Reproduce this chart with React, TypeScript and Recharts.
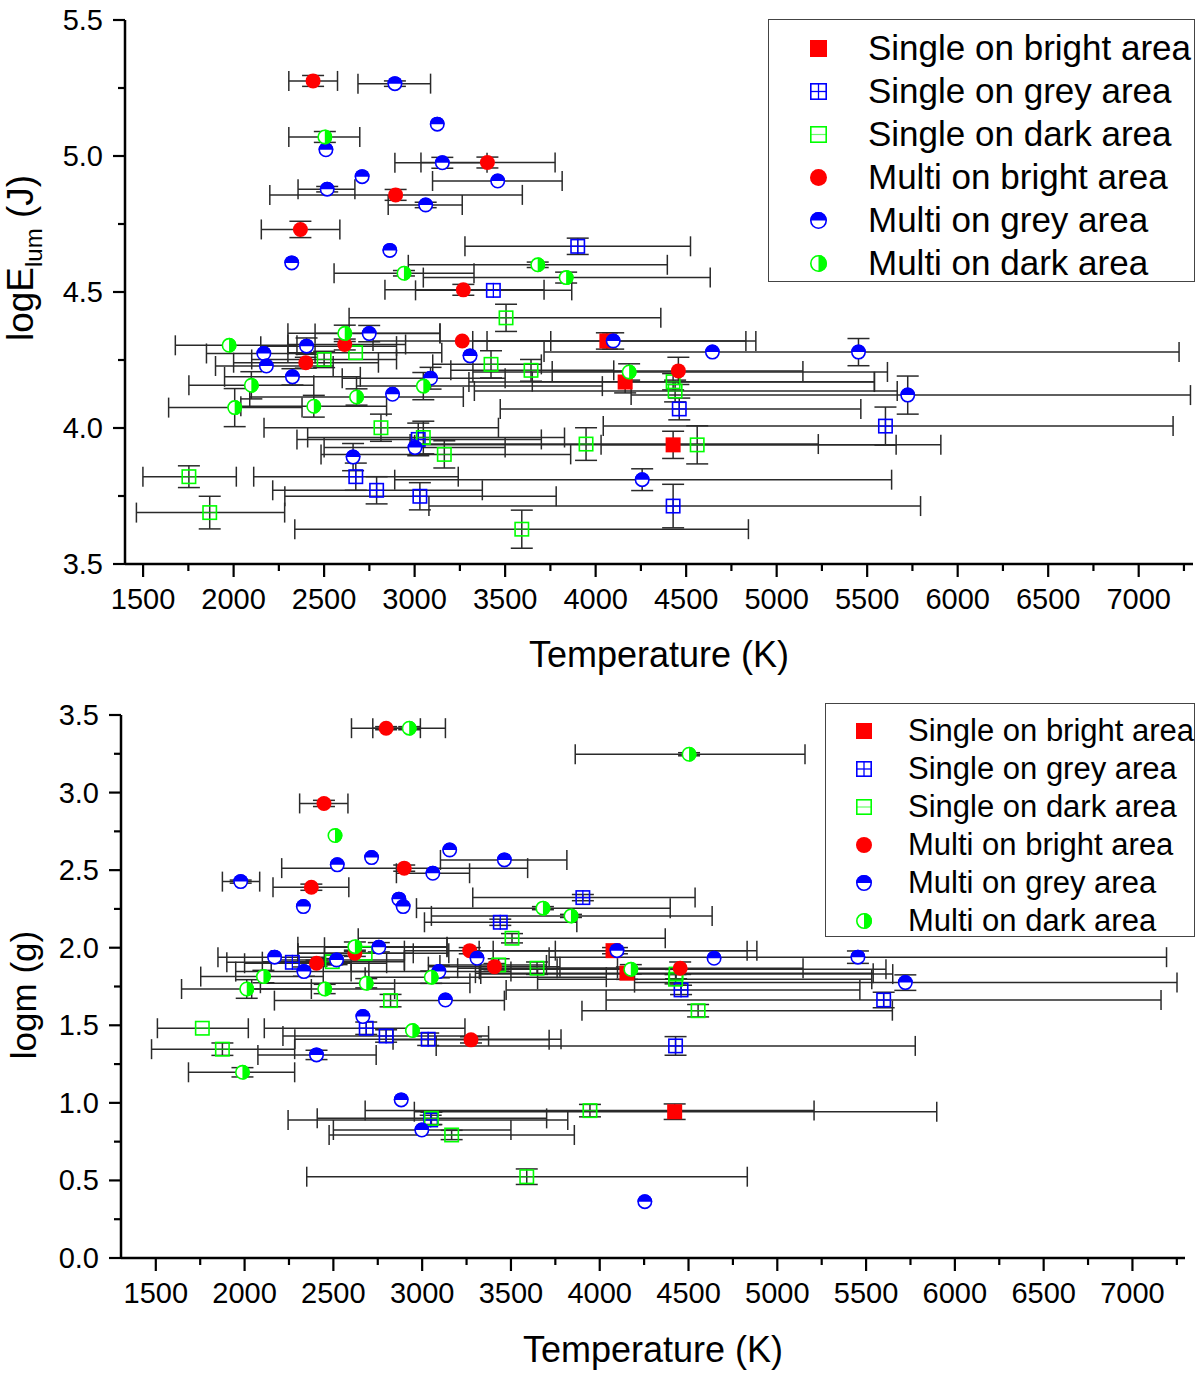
import React from 'react';
import { ScatterChart, Scatter, XAxis, YAxis, ErrorBar } from 'recharts';

// Row format: [temperature, value, tempLow, tempHigh, valueError]  (0 = no error bar)
type Row = [number, number, number, number, number];

// ---------- Top panel: logE_lum ----------
const topSingleBright: Row[] = [
  [4062, 4.32, 3321, 4830, 0.03],
  [4163, 4.169, 3300, 5540, 0.04],
  [4428, 3.938, 3000, 5907, 0.05],
];
const topSingleGrey: Row[] = [
  [3901, 4.668, 3278, 4524, 0.03],
  [3435, 4.506, 3005, 3868, 0],
  [4462, 4.07, 3473, 5465, 0.04],
  [5601, 4.007, 4042, 7190, 0.07],
  [3020, 3.958, 2350, 3700, 0.06],
  [2675, 3.821, 2111, 3241, 0.05],
  [2790, 3.771, 2216, 3374, 0.05],
  [3029, 3.749, 2283, 3782, 0.05],
  [4428, 3.713, 3079, 5795, 0.08],
];
const topSingleDark: Row[] = [
  [3505, 4.405, 2638, 4360, 0.05],
  [2674, 4.277, 2300, 3150, 0],
  [2500, 4.252, 2100, 2900, 0.03],
  [3422, 4.234, 3100, 3700, 0.05],
  [3643, 4.212, 3200, 4100, 0.04],
  [4428, 4.17, 3650, 5540, 0.03],
  [4439, 4.136, 3330, 5666, 0.04],
  [2814, 4.001, 2168, 3463, 0.05],
  [3048, 3.965, 2409, 3828, 0.06],
  [3164, 3.903, 2483, 3862, 0.05],
  [3947, 3.941, 2975, 5230, 0.06],
  [4561, 3.938, 4030, 5660, 0.07],
  [1753, 3.821, 1499, 2015, 0.04],
  [1868, 3.689, 1463, 2282, 0.06],
  [3592, 3.628, 2338, 4844, 0.07],
];
const topMultiBright: Row[] = [
  [2439, 5.276, 2305, 2574, 0.02],
  [3402, 4.976, 3035, 3776, 0.02],
  [2895, 4.857, 2200, 3595, 0.02],
  [2369, 4.73, 2153, 2587, 0.03],
  [3269, 4.508, 2836, 3715, 0.02],
  [3263, 4.32, 2770, 3752, 0],
  [2614, 4.307, 2300, 2950, 0.02],
  [2399, 4.24, 2000, 2800, 0.02],
  [4457, 4.21, 3760, 5145, 0.05],
];
const topMultiGrey: Row[] = [
  [2891, 5.266, 2687, 3088, 0.01],
  [3125, 5.117, 0, 0, 0],
  [2510, 5.023, 0, 0, 0],
  [3153, 4.975, 2891, 3400, 0.02],
  [2710, 4.924, 0, 0, 0],
  [3459, 4.908, 3099, 3815, 0],
  [2517, 4.878, 2356, 2670, 0.01],
  [3061, 4.82, 2854, 3263, 0.01],
  [2863, 4.653, 0, 0, 0],
  [2321, 4.607, 0, 0, 0],
  [2749, 4.347, 2450, 3140, 0.03],
  [4097, 4.32, 3400, 4885, 0.03],
  [2403, 4.301, 2150, 2900, 0.03],
  [4645, 4.279, 0, 0, 0],
  [5452, 4.279, 3715, 7223, 0.05],
  [2167, 4.274, 1850, 2450, 0],
  [3306, 4.265, 0, 0, 0],
  [2181, 4.228, 1900, 2550, 0],
  [2325, 4.188, 1950, 2700, 0.03],
  [3088, 4.183, 2600, 3500, 0.04],
  [2878, 4.124, 0, 0, 0],
  [5724, 4.121, 4196, 7286, 0.07],
  [3002, 3.928, 2500, 3500, 0],
  [2660, 3.893, 0, 0, 0.05],
  [4257, 3.81, 2890, 5635, 0.04],
];
const topMultiDark: Row[] = [
  [2504, 5.07, 2305, 2697, 0.02],
  [3680, 4.6, 2965, 4396, 0.01],
  [2941, 4.569, 2555, 3328, 0.01],
  [3837, 4.553, 3048, 4633, 0.02],
  [2614, 4.348, 2300, 3140, 0.03],
  [1975, 4.304, 1678, 2350, 0],
  [4185, 4.206, 3322, 5612, 0.03],
  [2098, 4.157, 1753, 2443, 0.05],
  [3048, 4.154, 2679, 4037, 0.05],
  [2679, 4.114, 2089, 3269, 0.03],
  [2006, 4.075, 1641, 2378, 0.07],
  [2443, 4.08, 2040, 2845, 0.04],
];

// ---------- Bottom panel: logm ----------
const botSingleBright: Row[] = [
  [4075, 1.981, 3321, 4830, 0.02],
  [4153, 1.836, 3300, 5540, 0.04],
  [4422, 0.943, 2956, 5898, 0.05],
];
const botSingleGrey: Row[] = [
  [3905, 2.323, 3285, 4537, 0.02],
  [3440, 2.164, 3013, 3871, 0.02],
  [2269, 1.906, 1900, 2600, 0],
  [4458, 1.728, 3473, 5465, 0.03],
  [5599, 1.663, 4036, 7161, 0.05],
  [2685, 1.481, 2111, 3241, 0.04],
  [2797, 1.431, 2216, 3374, 0.04],
  [3034, 1.41, 2283, 3782, 0.04],
  [4427, 1.367, 3079, 5777, 0.06],
  [3048, 0.89, 2245, 3820, 0.03],
];
const botSingleDark: Row[] = [
  [3506, 2.061, 2640, 4369, 0.03],
  [2679, 1.964, 2300, 3150, 0],
  [2494, 1.91, 2100, 2900, 0.02],
  [3431, 1.889, 3100, 3700, 0.04],
  [3647, 1.868, 3200, 4100, 0.04],
  [4430, 1.83, 3330, 5650, 0.03],
  [4427, 1.797, 3650, 5532, 0.03],
  [2822, 1.659, 2168, 3463, 0.04],
  [4554, 1.594, 3900, 5648, 0.04],
  [1762, 1.481, 1509, 2021, 0],
  [1875, 1.346, 1476, 2282, 0.04],
  [3945, 0.95, 2679, 5207, 0.04],
  [3052, 0.9, 2409, 3701, 0.04],
  [3166, 0.793, 2476, 3857, 0.03],
  [3589, 0.524, 2350, 4831, 0.05],
];
const botMultiBright: Row[] = [
  [2797, 3.415, 2602, 2990, 0.01],
  [2447, 2.93, 2310, 2582, 0.02],
  [2899, 2.513, 2209, 3594, 0.02],
  [2376, 2.39, 2160, 2587, 0.02],
  [3268, 1.981, 2900, 3750, 0.02],
  [2621, 1.964, 2300, 2950, 0.02],
  [2405, 1.9, 2000, 2800, 0.02],
  [3407, 1.878, 3035, 3776, 0.02],
  [4453, 1.868, 3760, 5145, 0.04],
  [3275, 1.406, 2836, 3715, 0.02],
];
const botMultiGrey: Row[] = [
  [3155, 2.63, 0, 0, 0],
  [2715, 2.581, 0, 0, 0],
  [3463, 2.566, 3103, 3815, 0],
  [2522, 2.534, 0, 0, 0],
  [3060, 2.48, 2855, 3267, 0],
  [1978, 2.426, 1875, 2085, 0.01],
  [2869, 2.313, 0, 0, 0],
  [2331, 2.265, 0, 0, 0],
  [2893, 2.265, 0, 0, 0],
  [2756, 2.003, 2450, 3140, 0.03],
  [4097, 1.981, 3400, 4885, 0.02],
  [2169, 1.939, 1850, 2450, 0],
  [5454, 1.939, 3715, 7192, 0.04],
  [4644, 1.932, 0, 0, 0],
  [3309, 1.932, 0, 0, 0],
  [2518, 1.921, 2150, 2900, 0.03],
  [2334, 1.846, 1950, 2700, 0.03],
  [3094, 1.846, 2600, 3500, 0.04],
  [5721, 1.775, 4196, 7251, 0.05],
  [3131, 1.663, 0, 0, 0],
  [2666, 1.556, 0, 0, 0],
  [2405, 1.309, 2075, 2741, 0.03],
  [2882, 1.019, 0, 0, 0],
  [2998, 0.825, 2500, 3500, 0],
  [4254, 0.363, 0, 0, 0],
];
const botMultiDark: Row[] = [
  [2927, 3.415, 2722, 3131, 0.01],
  [4503, 3.247, 3862, 5156, 0.01],
  [2509, 2.723, 0, 0, 0],
  [3680, 2.255, 2968, 4397, 0.01],
  [3838, 2.205, 3052, 4633, 0.01],
  [2621, 2.007, 2300, 3140, 0.03],
  [4175, 1.861, 3322, 5612, 0.03],
  [2106, 1.814, 1753, 2443, 0.04],
  [3051, 1.81, 2679, 4037, 0.04],
  [2685, 1.771, 2089, 3269, 0.03],
  [2012, 1.734, 1645, 2376, 0.06],
  [2451, 1.734, 2040, 2845, 0.03],
  [2945, 1.466, 0, 0, 0],
  [1988, 1.197, 1684, 2282, 0.03],
];

// ---------- Ticks & labels ----------
const xTicks = [1500, 1750, 2000, 2250, 2500, 2750, 3000, 3250, 3500, 3750, 4000, 4250, 4500, 4750, 5000, 5250, 5500, 5750, 6000, 6250, 6500, 6750, 7000, 7250];
const topYTicks = [3.5, 3.75, 4.0, 4.25, 4.5, 4.75, 5.0, 5.25, 5.5];
const botYTicks = [0, 0.25, 0.5, 0.75, 1.0, 1.25, 1.5, 1.75, 2.0, 2.25, 2.5, 2.75, 3.0, 3.25, 3.5];
const legendNames = [
  'Single on bright area',
  'Single on grey area',
  'Single on dark area',
  'Multi on bright area',
  'Multi on grey area',
  'Multi on dark area',
];
const markerKinds = ['sb', 'sg', 'sd', 'mb', 'mg', 'md'];

const FONT = '"Liberation Sans", Arial, Helvetica, sans-serif';
const RED = '#ff0000';
const BLUE = '#0000ff';
const GREEN = '#00ff00';

function toPoints(rows: Row[]) {
  return rows.map(([t, v, lo, hi, ve]) => ({
    x: t,
    y: v,
    ex: lo > 0 ? [t - lo, hi - t] : null,
    ey: ve > 0 ? ve : null,
  }));
}

function Marker({ kind, cx, cy, r }: { kind: string; cx: number; cy: number; r: number }) {
  switch (kind) {
    case 'sb':
      return <rect x={cx - r} y={cy - r} width={2 * r} height={2 * r} fill={RED} />;
    case 'sg':
      return (
        <g>
          <rect x={cx - r + 0.8} y={cy - r + 0.8} width={2 * r - 1.6} height={2 * r - 1.6} fill="#fff" fillOpacity={0.01} stroke={BLUE} strokeWidth={1.6} />
          <line x1={cx - r} x2={cx + r} y1={cy} y2={cy} stroke={BLUE} strokeWidth={1.3} />
          <line x1={cx} x2={cx} y1={cy - r} y2={cy + r} stroke={BLUE} strokeWidth={1.3} />
        </g>
      );
    case 'sd':
      return (
        <g>
          <rect x={cx - r + 0.8} y={cy - r + 0.8} width={2 * r - 1.6} height={2 * r - 1.6} fill="#fff" fillOpacity={0.01} stroke={GREEN} strokeWidth={1.6} />
          <line x1={cx - r} x2={cx + r} y1={cy} y2={cy} stroke={GREEN} strokeWidth={1.2} strokeOpacity={0.6} />
        </g>
      );
    case 'mb':
      return <circle cx={cx} cy={cy} r={r} fill={RED} />;
    case 'mg':
      return (
        <g>
          <circle cx={cx} cy={cy} r={r - 0.8} fill="#fff" stroke={BLUE} strokeWidth={1.6} />
          <path d={`M${cx - r} ${cy} A${r} ${r} 0 0 1 ${cx + r} ${cy} Z`} fill={BLUE} />
        </g>
      );
    case 'md':
    default:
      return (
        <g>
          <circle cx={cx} cy={cy} r={r - 0.8} fill="#fff" stroke={GREEN} strokeWidth={1.6} />
          <path d={`M${cx} ${cy - r} A${r} ${r} 0 0 1 ${cx} ${cy + r} Z`} fill={GREEN} />
        </g>
      );
  }
}

const XTick = (props: any) => {
  const { x, y, payload } = props;
  const v = payload.value;
  const major = v % 500 === 0;
  return (
    <g>
      <line x1={x} x2={x} y1={y} y2={y + (major ? 13 : 7)} stroke="#000" strokeWidth={2.2} />
      {major && (
        <text x={x} y={y + 45} textAnchor="middle" fontSize={29} fontFamily={FONT} fill="#000">
          {v}
        </text>
      )}
    </g>
  );
};

const YTick = (props: any) => {
  const { x, y, payload } = props;
  const v = payload.value;
  const major = Math.abs(v * 2 - Math.round(v * 2)) < 1e-6;
  return (
    <g>
      <line x1={x} x2={x - (major ? 12 : 7)} y1={y} y2={y} stroke="#000" strokeWidth={2.2} />
      {major && (
        <text x={x - 22} y={y + 10} textAnchor="end" fontSize={29} fontFamily={FONT} fill="#000">
          {v.toFixed(1)}
        </text>
      )}
    </g>
  );
};

type PanelProps = {
  top: number;
  height: number;
  margin: { top: number; right: number; bottom: number; left: number };
  yWidth: number;
  xHeight: number;
  xDomain: [number, number];
  yDomain: [number, number];
  yTicks: number[];
  series: Row[][];
};

function Panel({ top, height, margin, yWidth, xHeight, xDomain, yDomain, yTicks, series }: PanelProps) {
  return (
    <div style={{ position: 'absolute', left: 0, top, width: 1200, height }}>
      <ScatterChart width={1200} height={height} margin={margin}>
        <XAxis
          type="number"
          dataKey="x"
          domain={xDomain}
          allowDataOverflow
          ticks={xTicks}
          interval={0}
          tickSize={0}
          tickMargin={0}
          tickLine={false}
          tick={(p: any) => <XTick {...p} />}
          axisLine={{ stroke: '#000', strokeWidth: 2.5 }}
          height={xHeight}
        />
        <YAxis
          type="number"
          dataKey="y"
          domain={yDomain}
          allowDataOverflow
          ticks={yTicks}
          interval={0}
          tickSize={0}
          tickMargin={0}
          tickLine={false}
          tick={(p: any) => <YTick {...p} />}
          axisLine={{ stroke: '#000', strokeWidth: 2.5 }}
          width={yWidth}
        />
        {series.map((rows, i) => (
          <Scatter
            key={markerKinds[i]}
            name={legendNames[i]}
            data={toPoints(rows)}
            isAnimationActive={false}
            shape={(p: any) => <Marker kind={markerKinds[i]} cx={p.cx} cy={p.cy} r={7.5} />}
          >
            <ErrorBar dataKey="ex" direction="x" width={10} stroke="#2a2a2a" strokeWidth={1.5} isAnimationActive={false} />
            <ErrorBar dataKey="ey" direction="y" width={11} stroke="#2a2a2a" strokeWidth={1.5} isAnimationActive={false} />
          </Scatter>
        ))}
      </ScatterChart>
    </div>
  );
}

function LegendBox({ left, top, width, height, firstRow, rowGap, markerX, textX, fontSize, r }: any) {
  return (
    <div
      style={{
        position: 'absolute',
        left,
        top,
        width,
        height,
        boxSizing: 'border-box',
        border: '1.5px solid #444',
        background: '#fff',
      }}
    >
      {legendNames.map((name, i) => {
        const cy = firstRow + i * rowGap - top;
        return (
          <React.Fragment key={name}>
            <svg
              width={2 * r + 4}
              height={2 * r + 4}
              style={{ position: 'absolute', left: markerX - left - r - 2, top: cy - r - 2 }}
            >
              <Marker kind={markerKinds[i]} cx={r + 2} cy={r + 2} r={r} />
            </svg>
            <div
              style={{
                position: 'absolute',
                left: textX - left,
                top: cy - fontSize * 0.6,
                lineHeight: `${fontSize * 1.2}px`,
                fontSize,
                fontFamily: FONT,
                color: '#000',
                whiteSpace: 'nowrap',
              }}
            >
              {name}
            </div>
          </React.Fragment>
        );
      })}
    </div>
  );
}

function Title({ cx, cy, rotate, size, children }: any) {
  return (
    <div
      style={{
        position: 'absolute',
        left: cx,
        top: cy,
        transform: `translate(-50%, -50%)${rotate ? ' rotate(-90deg)' : ''}`,
        fontSize: size,
        fontFamily: FONT,
        color: '#000',
        whiteSpace: 'nowrap',
        lineHeight: 1.1,
      }}
    >
      {children}
    </div>
  );
}

export default function App() {
  return (
    <div style={{ position: 'absolute', left: 0, top: 0, width: 1200, height: 1377, background: '#fff', overflow: 'hidden' }}>
      <Panel
        top={0}
        height={700}
        margin={{ top: 20, right: 7, bottom: 0, left: 0 }}
        yWidth={125}
        xHeight={136}
        xDomain={[1400, 7300]}
        yDomain={[3.5, 5.5]}
        yTicks={topYTicks}
        series={[topSingleBright, topSingleGrey, topSingleDark, topMultiBright, topMultiGrey, topMultiDark]}
      />
      <Panel
        top={700}
        height={677}
        margin={{ top: 15, right: 15, bottom: 0, left: 0 }}
        yWidth={121}
        xHeight={119}
        xDomain={[1304, 7296]}
        yDomain={[0, 3.5]}
        yTicks={botYTicks}
        series={[botSingleBright, botSingleGrey, botSingleDark, botMultiBright, botMultiGrey, botMultiDark]}
      />
      <LegendBox left={768} top={19} width={427} height={263} firstRow={47} rowGap={43} markerX={817} textX={867} fontSize={35} r={8.5} />
      <LegendBox left={825} top={703} width={370} height={234} firstRow={730} rowGap={38} markerX={863} textX={907} fontSize={31} r={8} />
      <Title cx={659} cy={655} size={36}>Temperature (K)</Title>
      <Title cx={653} cy={1350} size={36}>Temperature (K)</Title>
      <Title cx={24} cy={258} size={37} rotate>
        logE<sub style={{ fontSize: 24, verticalAlign: '-0.35em' }}>lum</sub> (J)
      </Title>
      <Title cx={24} cy={995} size={35} rotate>
        logm (g)
      </Title>
    </div>
  );
}
